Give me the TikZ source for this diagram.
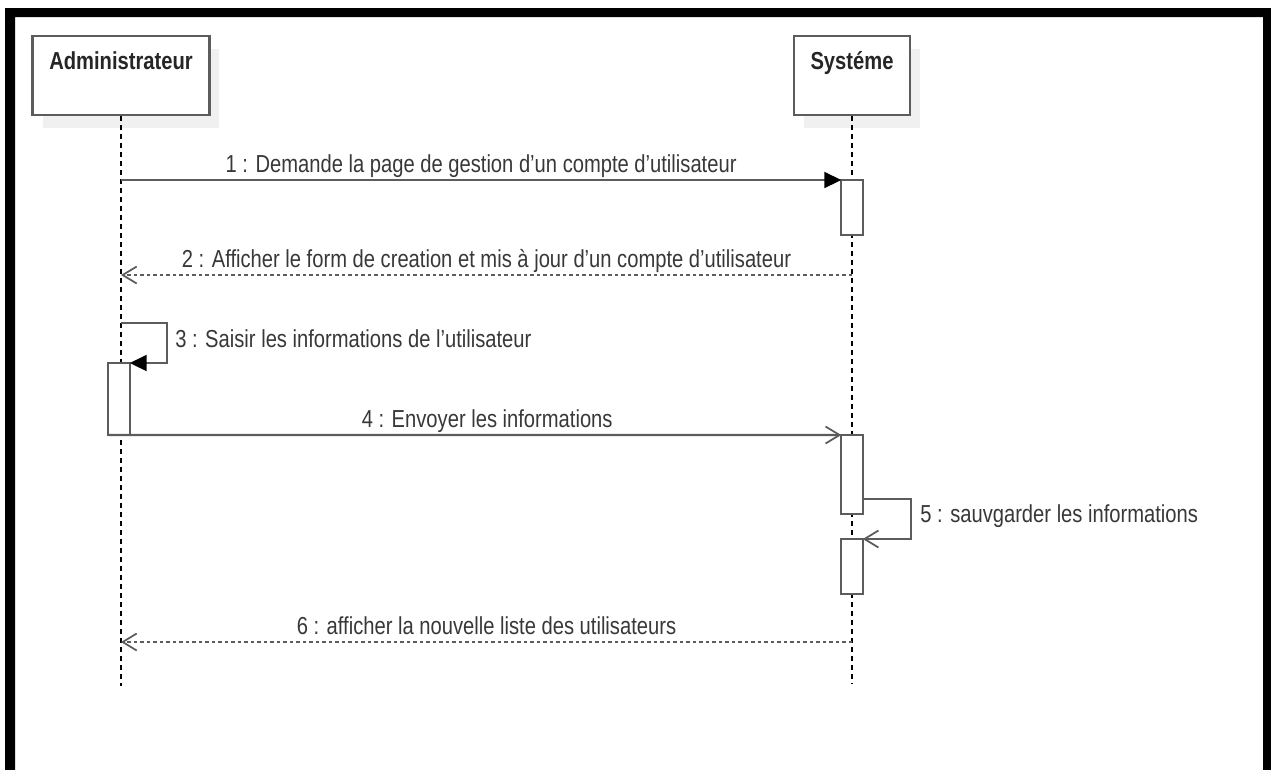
\documentclass[tikz,border=0pt]{standalone}
\usepackage{fontspec}
\setmainfont[FakeStretch=0.82]{Liberation Sans}
\usetikzlibrary{arrows.meta,shadows}
\definecolor{linegray}{HTML}{5C5C5C}
\definecolor{textgray}{HTML}{383838}

\begin{document}
\begin{tikzpicture}[x=0.02cm,y=-0.02cm,
  actor/.style={draw=linegray, line width=1.3pt, fill=white, minimum width=#1, minimum height=1.58cm, inner sep=0pt,
    drop shadow={shadow xshift=0.2cm, shadow yshift=-0.26cm, fill=black!6, opacity=1}},
  actorname/.style={font=\fontsize{14}{16}\selectfont\bfseries, text=black!85, anchor=base, inner sep=0pt},
  act/.style={draw=linegray, line width=1.3pt, fill=white, minimum width=0.43cm, inner sep=0pt, outer sep=0pt, anchor=north},
  lifeline/.style={black, line width=0.7pt, dash pattern=on 0.09cm off 0.09cm},
  msg/.style={linegray, line width=1.2pt},
  sync/.style={msg, -{Triangle[length=0.34cm,width=0.32cm]}, arrows={[fill=black,color=black]}},
  async/.style={msg, -{Straight Barb[length=0.28cm,width=0.34cm,line width=1pt]}},
  ret/.style={msg, dash pattern=on 0.07cm off 0.06cm, -{Straight Barb[length=0.28cm,width=0.34cm,line width=1pt]}},
  lbl/.style={font=\fontsize{14}{16}\selectfont, text=textgray, inner sep=0pt},
  mlbl/.style={lbl, anchor=base, yshift=0.16cm}]
\useasboundingbox (0,0) rectangle (1271,769);
% frame
\fill[black, even odd rule] (5,8) rectangle (1271,790) (15,17) rectangle (1263,800);

% actors
\node[actor=3.54cm] (adm) at (121,75.5) {};
\node[actorname] (admname) at ([yshift=-0.7cm]adm.north) {Administrateur};
\node[actor=2.32cm] (sys) at (852,75.5) {};
\node[actorname] (sysname) at ([yshift=-0.7cm]sys.north) {Systéme};

% lifelines
\coordinate (admend) at (121,686);
\coordinate (sysend) at (852,684);
\draw[lifeline] (adm.south) -- (admend);
\draw[lifeline] (sys.south) -- (sysend);

% activations
\node[act, minimum height=1.1cm] (a1) at (852,180) {};
\node[act, minimum height=1.44cm] (a2) at (119,363) {};
\node[act, minimum height=1.58cm] (a3) at (852,435) {};
\node[act, minimum height=1.1cm] (a4) at (852,539) {};

% messages
\draw[sync] (adm.south |- a1.north) -- (a1.north west)
  node[mlbl, midway] {1 : Demande la page de gestion d'un compte d'utilisateur};

\coordinate (r2) at (852,275);
\draw[ret] (r2) -- (adm.south |- r2)
  node[mlbl, midway] {2 : Afficher le form de creation et mis à jour d'un compte d'utilisateur};

\coordinate (s3) at (121,323);
\draw[sync] (s3) -- ++(46,0) |- (a2.north east);
\node[lbl, anchor=base west] (m3) at (175,347) {3 : Saisir les informations de l'utilisateur};

\draw[async] (a2.south west) -- (a3.north west)
  node[mlbl, pos=0.517] {4 : Envoyer les informations};

\draw[async] ([yshift=0.3cm]a3.south east) -- ++(48,0) |- (a4.north east);
\node[lbl, anchor=base west] (m5) at (920,522) {5 : sauvgarder les informations};

\coordinate (r6) at (852,642);
\draw[ret] (r6) -- (adm.south |- r6)
  node[mlbl, midway] {6 : afficher la nouvelle liste des utilisateurs};
\end{tikzpicture}
\end{document}
